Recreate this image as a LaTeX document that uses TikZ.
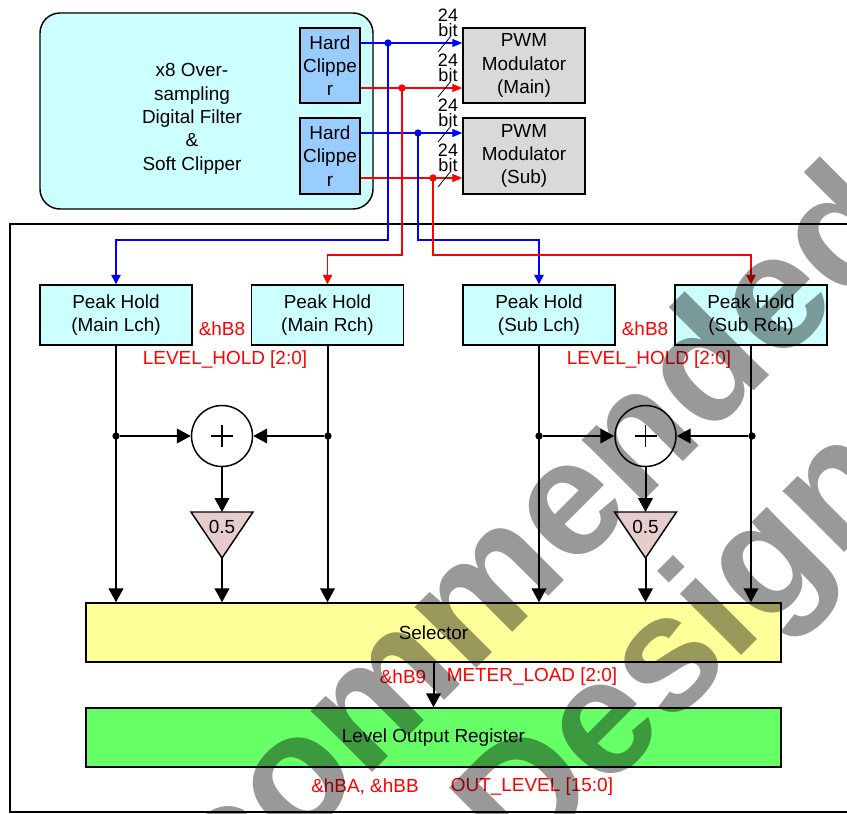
\documentclass[tikz,border=0pt]{standalone}
\usepackage{fontspec}
\setmainfont{Liberation Sans}
\usetikzlibrary{arrows.meta,positioning,calc}

\definecolor{filtcyan}{HTML}{CCFFFF}
\definecolor{clipblue}{HTML}{99CCFF}
\definecolor{pwmgray}{HTML}{D9D9D9}
\definecolor{halfpink}{HTML}{E6CCCC}
\definecolor{selyellow}{HTML}{FFFF99}
\definecolor{reggreen}{HTML}{66FF66}

\tikzset{
  blk/.style={draw,line width=1.1pt,inner sep=0pt,align=center},
  sumc/.style={circle,draw,line width=1.1pt,minimum size=45.75pt,inner sep=0pt,
    path picture={\draw[line width=0.9pt] (path picture bounding box.center)
      +(-11,0) -- +(11,0) +(0,-11) -- +(0,11);}},
  cdot/.style={circle,fill,inner sep=0pt,minimum size=5.5pt},
  jdot/.style={circle,fill,inner sep=0pt,minimum size=5.5pt},
  sig/.style={line width=1pt,-{Triangle[length=7.5pt,width=6pt]}},
  arr/.style={line width=1.5pt,-{Triangle[length=10.5pt,width=11pt]}},
  lbl/.style={text=red,inner sep=0pt},
  bitlbl/.style={align=center,inner sep=0pt,font=\fontsize{13.5}{11.5}\selectfont},
  wmark/.style={text=black!40,inner sep=0pt,font=\fontsize{123}{123}\bfseries\selectfont}
}

\begin{document}
\begin{tikzpicture}[x=0.75pt,y=-0.75pt,font=\fontsize{14.2}{17.5}\selectfont]

  \useasboundingbox (0,0) rectangle (847,814);
  \clip (0,0) rectangle (847,814);

  % outer frame
  \draw[line width=1.5pt] (860,224) -- (10,224) -- (10,812) -- (860,812);

  % filter and clippers
  \node[blk,fill=filtcyan,rounded corners=15pt,minimum width=249.75pt,minimum height=147pt] (filt) at (206.5,111) {};
  \node[align=center] (filttxt) at (192,119) {x8 Over-\\sampling\\Digital Filter\\\&\\Soft Clipper};

  \node[blk,fill=clipblue,minimum width=45pt,minimum height=56.25pt] (clipM) at (330,65.5) {Hard\\Clippe\\r};
  \node[blk,fill=clipblue,minimum width=45pt,minimum height=57pt] (clipS) at (330,156) {Hard\\Clippe\\r};

  \node[blk,fill=pwmgray,minimum width=91.5pt,minimum height=56.25pt] (pwmM) at (524,65.5) {PWM\\Modulator\\(Main)};
  \node[blk,fill=pwmgray,minimum width=91.5pt,minimum height=57pt] (pwmS) at (524,156) {PWM\\Modulator\\(Sub)};

  \draw[sig,blue] ($(clipM.east)+(0,-22.5)$) -- ($(pwmM.west)+(0,-22.5)$);
  \draw[sig,red] ($(clipM.east)+(0,22.5)$) -- ($(pwmM.west)+(0,22.5)$);
  \draw[sig,blue] ($(clipS.east)+(0,-23)$) -- ($(pwmS.west)+(0,-23)$);
  \draw[sig,red] ($(clipS.east)+(0,22)$) -- ($(pwmS.west)+(0,22)$);

  \foreach \yy/\nm in {43/a,88/b,133/c,178/d}{
    \node[bitlbl] (bit\nm) at (448,\yy-20) {24\\bit};
    \draw[line width=0.6pt] (438,\yy+9) -- (451,\yy-7);
  }

  \node[cdot,blue] (dLM) at (388,43) {};
  \node[cdot,red] (dRM) at (402,88) {};
  \node[cdot,blue] (dLS) at (418,133) {};
  \node[cdot,red] (dRS) at (433,178) {};

  % peak hold blocks
  \node[blk,fill=filtcyan,minimum width=114pt,minimum height=45pt] (phML) at (116,315) {Peak Hold\\(Main Lch)};
  \node[blk,fill=filtcyan,minimum width=114pt,minimum height=45pt] (phMR) at (327.5,315) {Peak Hold\\(Main Rch)};
  \node[blk,fill=filtcyan,minimum width=114pt,minimum height=45pt] (phSL) at (539,315) {Peak Hold\\(Sub Lch)};
  \node[blk,fill=filtcyan,minimum width=114pt,minimum height=45pt] (phSR) at (751,315) {Peak Hold\\(Sub Rch)};

  \draw[line width=1pt,blue,-{Triangle[length=7pt,width=7pt]}] (dLM.center) -- ++(0,197) -| (phML.north);
  \draw[line width=1pt,red,-{Triangle[length=7pt,width=7pt]}] (dRM.center) -- ++(0,167) -| (phMR.north);
  \draw[line width=1pt,blue,-{Triangle[length=7pt,width=7pt]}] (dLS.center) -- ++(0,107) -| (phSL.north);
  \draw[line width=1pt,red,-{Triangle[length=7pt,width=7pt]}] (dRS.center) -- ++(0,77) -| (phSR.north);

  \node[lbl] (hbM) at (222,329) {\&hB8};
  \node[lbl] (lhM) at (225,360) {LEVEL\_HOLD [2:0]};
  \node[lbl] (hbS) at (645,329) {\&hB8};
  \node[lbl] (lhS) at (649,360) {LEVEL\_HOLD [2:0]};

  % selector and register
  \node[blk,fill=selyellow,minimum width=521.25pt,minimum height=44.25pt] (sel) at (433.5,632.5) {Selector};
  \node[blk,fill=reggreen,minimum width=521.25pt,minimum height=44.25pt] (reg) at (433.5,737.5) {Level Output Register};

  % main averaging
  \node[sumc] (sumM) at (222,436) {};
  \node[jdot] (jML) at (116,436) {};
  \node[jdot] (jMR) at (328,436) {};
  \coordinate (halfMt) at (222,512);
  \coordinate (halfMb) at (222,558);
  \draw[line width=1.1pt,fill=halfpink] (191,512) -- (253,512) -- (halfMb) -- cycle;
  \node (halfM) at (222,527) {0.5};

  \draw[arr] (phML) -- (phML |- sel.north);
  \draw[arr] (phMR) -- (phMR |- sel.north);
  \draw[arr] (jML) -- (sumM);
  \draw[arr] (jMR) -- (sumM);
  \draw[arr] (sumM) -- (halfMt);
  \draw[arr] (halfMb) -- (halfMb |- sel.north);

  % sub averaging
  \node[sumc] (sumS) at (645.5,436) {};
  \node[jdot] (jSL) at (539,436) {};
  \node[jdot] (jSR) at (752,436) {};
  \coordinate (halfSt) at (645.5,512);
  \coordinate (halfSb) at (645.5,558);
  \draw[line width=1.1pt,fill=halfpink] (614.5,512) -- (676.5,512) -- (halfSb) -- cycle;
  \node (halfS) at (645.5,527) {0.5};

  \draw[arr] (phSL) -- (phSL |- sel.north);
  \draw[arr] (phSR) -- (phSR |- sel.north);
  \draw[arr] (jSL) -- (sumS);
  \draw[arr] (jSR) -- (sumS);
  \draw[arr] (sumS) -- (halfSt);
  \draw[arr] (halfSb) -- (halfSb |- sel.north);

  \draw[arr] (sel) -- (reg);

  \node[lbl] (hb9) at (403,677) {\&hB9};
  \node[lbl] (mload) at (532,677) {METER\_LOAD [2:0]};
  \node[lbl] (hbab) at (365,787) {\&hBA, \&hBB};
  \node[lbl] (olev) at (532,787) {OUT\_LEVEL [15:0]};

  % watermark
  \begin{scope}[blend mode=multiply]
    \node[wmark,anchor=base east,rotate=45] (wm1) at (913,232) {Not Recommended};
    \node[wmark,anchor=base east,rotate=45] (wm2) at (908,489) {for New Design};
  \end{scope}

\end{tikzpicture}
\end{document}
